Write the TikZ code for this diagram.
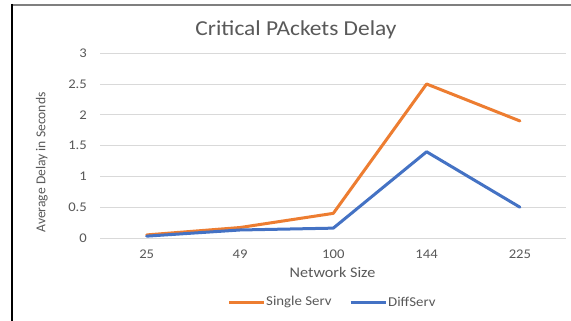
\documentclass[tikz,border=0pt]{standalone}
\usepackage{fontspec}
\setmainfont{Carlito}
\newfontfamily\chartfont[FakeStretch=1.1]{Carlito}
\definecolor{txtgray}{HTML}{595959}
\definecolor{gridgray}{HTML}{D9D9D9}
\definecolor{framegray}{HTML}{7F7F7F}
\definecolor{serorange}{HTML}{ED7D31}
\definecolor{diffblue}{HTML}{4472C4}
\begin{document}
\begin{tikzpicture}[x=1pt,y=-1pt,
  gridline/.style={draw=gridgray,line width=0.9pt},
  series/.style={line width=3pt,line join=round,line cap=round},
  ticklabel/.style={text=txtgray,font=\chartfont\fontsize{13.3}{15}\selectfont,inner sep=0pt},
  axistitle/.style={text=txtgray,font=\chartfont\fontsize{14.7}{17}\selectfont,inner sep=0pt},
  legendtext/.style={text=txtgray,font=\chartfont\fontsize{13.5}{16}\selectfont,inner sep=0pt,anchor=west}]
\useasboundingbox (0,0) rectangle (571,321);
\fill[white] (0,0) rectangle (571,321);

% chart frame (top and left edges)
\draw[framegray,line width=2pt] (12,5) -- (571,5);
\draw[black,line width=2pt] (12,4) -- (12,321);

% title
\node[anchor=base,text=txtgray,font=\chartfont\fontsize{21.3}{25}\selectfont,inner sep=0pt] (title) at (296,36) {Critical PAckets Delay};

% horizontal grid lines and y tick labels
\foreach \v/\lab in {0/0,0.5/0.5,1/1,1.5/1.5,2/2,2.5/2.5,3/3}{
  \draw[gridline] (100,{238-61.6*\v}) -- (566,{238-61.6*\v});
  \node[ticklabel,anchor=east] (yt\lab) at (87,{238-61.6*\v}) {\lab};
}

% category labels
\foreach \c [count=\i from 0] in {25,49,100,144,225}{
  \node[ticklabel] (xt\c) at ({146.7+93.3*\i},254) {\c};
}

% axis titles
\node[axistitle,anchor=base] (xtitle) at (332.5,277.5) {Network Size};
\node[text=txtgray,font=\fontsize{13.6}{16}\selectfont,inner sep=0pt,rotate=90] (ytitle) at (41.7,162.5) {Average Delay in Seconds};

% data points
\foreach \v [count=\i from 0] in {0.05,0.17,0.4,2.5,1.9}{
  \coordinate (s\i) at ({146.7+93.3*\i},{238-61.6*\v});
}
\foreach \v [count=\i from 0] in {0.03,0.13,0.16,1.4,0.5}{
  \coordinate (d\i) at ({146.7+93.3*\i},{238-61.6*\v});
}

% series
\draw[series,serorange] (s0) -- (s1) -- (s2) -- (s3) -- (s4);
\draw[series,diffblue] (d0) -- (d1) -- (d2) -- (d3) -- (d4);

% legend
\coordinate (lo1) at (229,302);
\coordinate (lo2) at (263.5,302);
\coordinate (lb1) at (350.5,302);
\coordinate (lb2) at (385.5,302);
\draw[serorange,line width=3pt] (lo1) -- (lo2);
\draw[diffblue,line width=3pt] (lb1) -- (lb2);
\node[legendtext] (leg1) at (266,302) {Single Serv};
\node[legendtext] (leg2) at (388,302) {DiffServ};
\end{tikzpicture}
\end{document}
